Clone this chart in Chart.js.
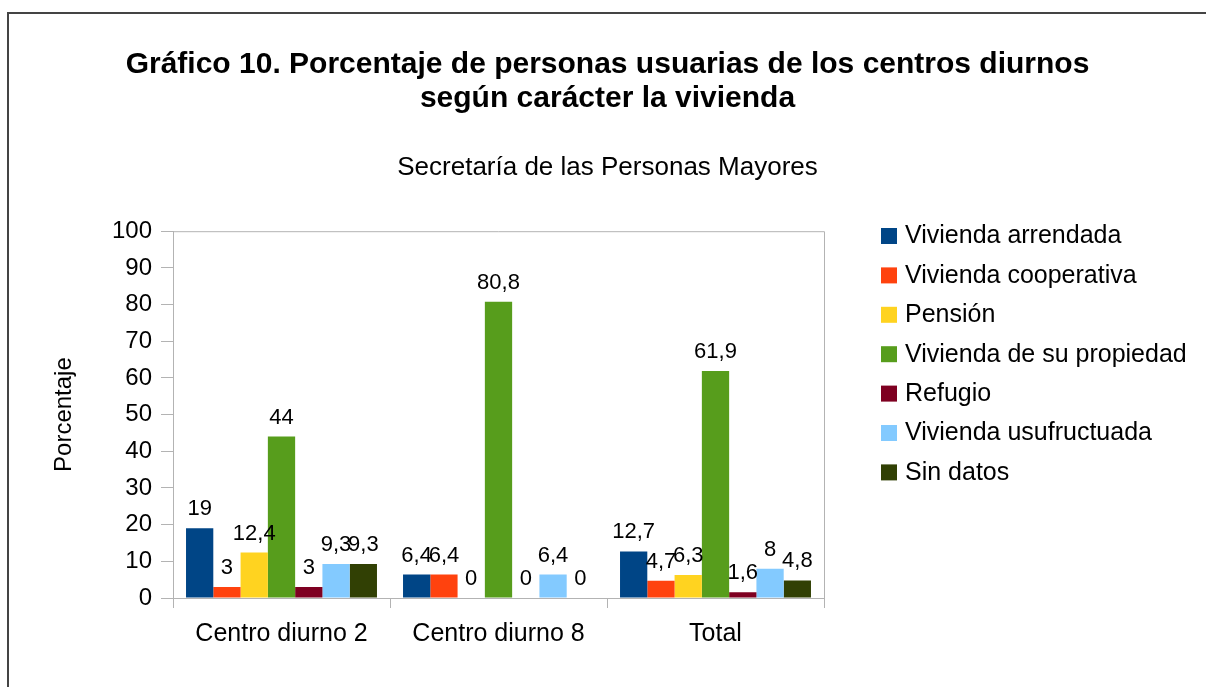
<!DOCTYPE html>
<html>
<head>
<meta charset="utf-8">
<script src="https://cdn.jsdelivr.net/npm/chart.js@4.4.1/dist/chart.umd.min.js"></script>
<style>
	body { margin: 0; background: #fff; }
	#wrap { position: relative; width: 1206px; height: 687px; }
	#frame { position: absolute; left: 7px; top: 12px; right: 0; bottom: 0;
		border-top: 2px solid #444; border-left: 2px solid #444; pointer-events: none; }
</style>
</head>
<body>
<div id="wrap">
	<canvas id="chart" width="1206" height="687"></canvas>
	<div id="frame"></div>
</div>
<script>
var categories = ["Centro diurno 2", "Centro diurno 8", "Total"]
var seriesNames = ["Vivienda arrendada", "Vivienda cooperativa", "Pensión", "Vivienda de su propiedad",
	"Refugio", "Vivienda usufructuada", "Sin datos"]
var arrendada = [19, 6.4, 12.7]
var cooperativa = [3, 6.4, 4.7]
var pension = [12.4, 0, 6.3]
var propiedad = [44, 80.8, 61.9]
var refugio = [3, 0, 1.6]
var usufructuada = [9.3, 6.4, 8]
var sinDatos = [9.3, 0, 4.8]
var yTicks = [0, 10, 20, 30, 40, 50, 60, 70, 80, 90, 100]

var colors = ["#004586", "#ff420e", "#ffd320", "#579d1c", "#7e0021", "#83caff", "#314004"]
var seriesValues = [arrendada, cooperativa, pension, propiedad, refugio, usufructuada, sinDatos]

var FONT = "'Liberation Sans', Arial, sans-serif"

// value labels above each bar, with comma decimals
var barLabels = {
	id: 'barLabels',
	afterDatasetsDraw: function(chart) {
		var ctx = chart.ctx
		ctx.save()
		ctx.font = "22px " + FONT
		ctx.fillStyle = "#000"
		ctx.textAlign = "center"
		ctx.textBaseline = "alphabetic"
		chart.data.datasets.forEach(function(ds, i) {
			var meta = chart.getDatasetMeta(i)
			meta.data.forEach(function(bar, j) {
				var txt = String(ds.data[j]).replace('.', ',')
				ctx.fillText(txt, bar.x, bar.y - 13)
			})
		})
		ctx.restore()
	}
}

// legend on the right, one row per series
var sideLegend = {
	id: 'sideLegend',
	afterDraw: function(chart) {
		var ctx = chart.ctx
		ctx.save()
		ctx.font = "25px " + FONT
		ctx.textBaseline = "middle"
		ctx.textAlign = "left"
		chart.data.datasets.forEach(function(ds, i) {
			var top = 228 + i * 39.4
			ctx.fillStyle = ds.backgroundColor
			ctx.fillRect(881, top, 16, 16)
			ctx.fillStyle = "#000"
			ctx.fillText(ds.label, 905, top + 8.5)
		})
		ctx.restore()
	}
}

// light frame on top and right of the plot
var plotFrame = {
	id: 'plotFrame',
	beforeDatasetsDraw: function(chart) {
		var a = chart.chartArea
		var ctx = chart.ctx
		ctx.save()
		ctx.strokeStyle = "#b3b3b3"
		ctx.lineWidth = 1
		ctx.beginPath()
		ctx.moveTo(a.left, a.top + 0.5)
		ctx.lineTo(a.right + 0.5, a.top + 0.5)
		ctx.lineTo(a.right + 0.5, a.bottom)
		ctx.stroke()
		ctx.restore()
	}
}

var datasets = []
for (var i = 0; i < seriesNames.length; i++) {
	datasets.push({
		label: seriesNames[i],
		data: seriesValues[i],
		backgroundColor: colors[i],
		borderWidth: 0,
		categoryPercentage: 0.88,
		barPercentage: 1.0
	})
}

var chart = new Chart(document.getElementById("chart").getContext("2d"), {
	type: 'bar',
	data: { labels: categories, datasets: datasets },
	plugins: [barLabels, sideLegend, plotFrame],
	options: {
		responsive: false,
		animation: false,
		layout: { padding: { left: 9, right: 0, top: 0, bottom: 0 } },
		plugins: {
			legend: { display: false },
			tooltip: { enabled: false },
			title: {
				display: true,
				text: ["Gráfico 10. Porcentaje de personas usuarias de los centros diurnos",
					"según carácter la vivienda"],
				color: "#000",
				font: { family: FONT, size: 30, weight: 'bold', lineHeight: '34px' },
				padding: { top: 48, bottom: 36 }
			},
			subtitle: {
				display: true,
				text: "Secretaría de las Personas Mayores",
				color: "#000",
				font: { family: FONT, size: 26, lineHeight: 1.2 },
				padding: { top: 0, bottom: 48 }
			}
		},
		scales: {
			x: {
				afterFit: function(scale) { scale.height = 89 },
				grid: {
					color: function(c) { return c.index === categories.length ? "#b3b3b3" : "rgba(0,0,0,0)" },
					tickColor: "#b3b3b3",
					tickLength: 10
				},
				border: { color: "#b3b3b3" },
				ticks: { color: "#000", font: { family: FONT, size: 25 }, padding: 11 }
			},
			y: {
				min: 0,
				max: 100,
				afterFit: function(scale) { scale.width = 164 },
				afterBuildTicks: function(scale) {
					scale.ticks = yTicks.map(function(v) { return { value: v } })
				},
				grid: {
					color: "rgba(0,0,0,0)",
					tickColor: "#b3b3b3",
					tickLength: 12
				},
				border: { color: "#b3b3b3" },
				ticks: { color: "#000", font: { family: FONT, size: 24 }, padding: 9 },
				title: {
					display: true,
					text: "Porcentaje",
					color: "#000",
					font: { family: FONT, size: 24 },
					padding: { top: 41, bottom: 0 }
				}
			},
			// empty right-hand box that keeps room for the legend
			legendSpace: {
				position: 'right',
				axis: 'y',
				afterFit: function(scale) { scale.width = 382 },
				grid: { display: false },
				border: { display: false },
				ticks: { display: false }
			}
		}
	}
})
</script>
</body>
</html>
